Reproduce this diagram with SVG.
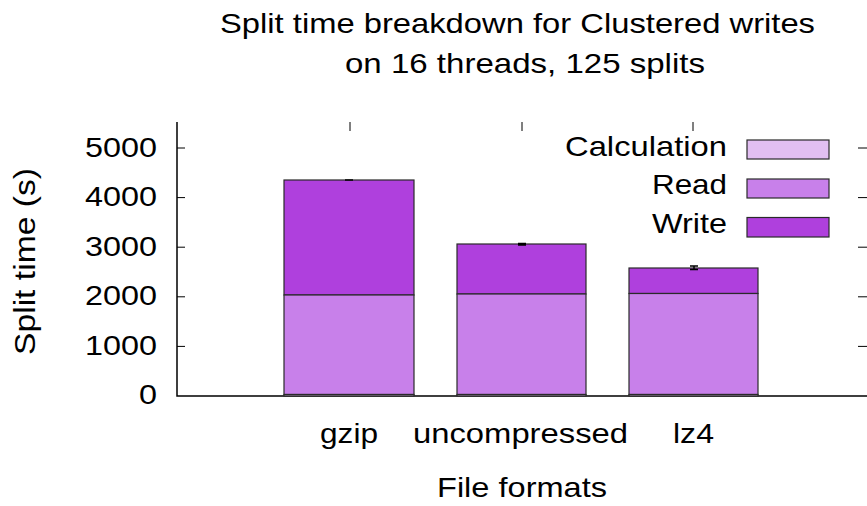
<svg xmlns="http://www.w3.org/2000/svg" width="867" height="506" viewBox="0 0 867 506">
<style>
text{font-family:"Liberation Sans",Arial,sans-serif;font-size:28px;fill:#000}
.ax{stroke:#000;stroke-width:1.5;fill:none}
.tk{stroke:#000;stroke-width:1;fill:none}
.bar{stroke:#2a2a2a;stroke-width:1.2}
.calc{fill:#e2bff2}
.read{fill:#c880ea}
.write{fill:#af40dd}
.err{stroke:#000;stroke-width:1.5;fill:none}
</style>
<rect width="867" height="506" fill="#fff"/>
<g id="title">
<text x="220" y="33" textLength="595" lengthAdjust="spacingAndGlyphs">Split time breakdown for Clustered writes</text>
<text x="345" y="73" textLength="360" lengthAdjust="spacingAndGlyphs">on 16 threads, 125 splits</text>
</g>
<g id="axes">
<path class="ax" d="M177,122 V396 H867"/>
<path class="tk" d="M177,148 h8 M177,197.6 h8 M177,247.2 h8 M177,296.8 h8 M177,346.4 h8"/>
<path class="tk" d="M867,148 h-9 M867,197.6 h-9 M867,247.2 h-9 M867,296.8 h-9 M867,346.4 h-9"/>
<path class="tk" d="M350,122 v9 M522,122 v9 M693,122 v9"/>
</g>
<g id="ytick-labels">
<text x="85" y="156.5" textLength="72" lengthAdjust="spacingAndGlyphs">5000</text>
<text x="85" y="206" textLength="72" lengthAdjust="spacingAndGlyphs">4000</text>
<text x="85" y="255.5" textLength="72" lengthAdjust="spacingAndGlyphs">3000</text>
<text x="85" y="305" textLength="72" lengthAdjust="spacingAndGlyphs">2000</text>
<text x="85" y="354.5" textLength="72" lengthAdjust="spacingAndGlyphs">1000</text>
<text x="139" y="404" textLength="18" lengthAdjust="spacingAndGlyphs">0</text>
</g>
<g id="ytitle">
<text transform="translate(35,355) rotate(-90)" x="0" y="0" style="font-size:30px" textLength="187" lengthAdjust="spacingAndGlyphs">Split time (s)</text>
</g>
<g id="bar-gzip">
<rect class="bar write" x="284" y="180" width="130" height="115"/>
<rect class="bar read" x="284" y="295" width="130" height="99.5"/>
<rect class="bar calc" x="284" y="394.5" width="130" height="1.5"/>
<path class="err" d="M345,180 h8"/>
</g>
<g id="bar-uncompressed">
<rect class="bar write" x="457" y="244" width="129" height="50"/>
<rect class="bar read" x="457" y="294" width="129" height="100.5"/>
<rect class="bar calc" x="457" y="394.5" width="129" height="1.5"/>
<path class="err" d="M518,243.5 h8 M518,245 h8"/>
</g>
<g id="bar-lz4">
<rect class="bar write" x="629" y="268" width="129" height="25.5"/>
<rect class="bar read" x="629" y="293.5" width="129" height="101"/>
<rect class="bar calc" x="629" y="394.5" width="129" height="1.5"/>
<path class="err" d="M690,266 h8 M690,269.5 h8 M694,266 v3.5"/>
</g>
<g id="xtick-labels">
<text x="320" y="443" textLength="58" lengthAdjust="spacingAndGlyphs">gzip</text>
<text x="413" y="443" textLength="215" lengthAdjust="spacingAndGlyphs">uncompressed</text>
<text x="673" y="443" textLength="41" lengthAdjust="spacingAndGlyphs">lz4</text>
</g>
<g id="xtitle">
<text x="437" y="497" textLength="170" lengthAdjust="spacingAndGlyphs">File formats</text>
</g>
<g id="legend">
<text x="565" y="155.5" textLength="162" lengthAdjust="spacingAndGlyphs">Calculation</text>
<rect class="bar calc" x="747" y="140" width="82" height="19"/>
<text x="652" y="194" textLength="75" lengthAdjust="spacingAndGlyphs">Read</text>
<rect class="bar read" x="747" y="179" width="82" height="19"/>
<text x="652" y="232.5" textLength="75" lengthAdjust="spacingAndGlyphs">Write</text>
<rect class="bar write" x="747" y="217.5" width="82" height="19.5"/>
</g>
</svg>
